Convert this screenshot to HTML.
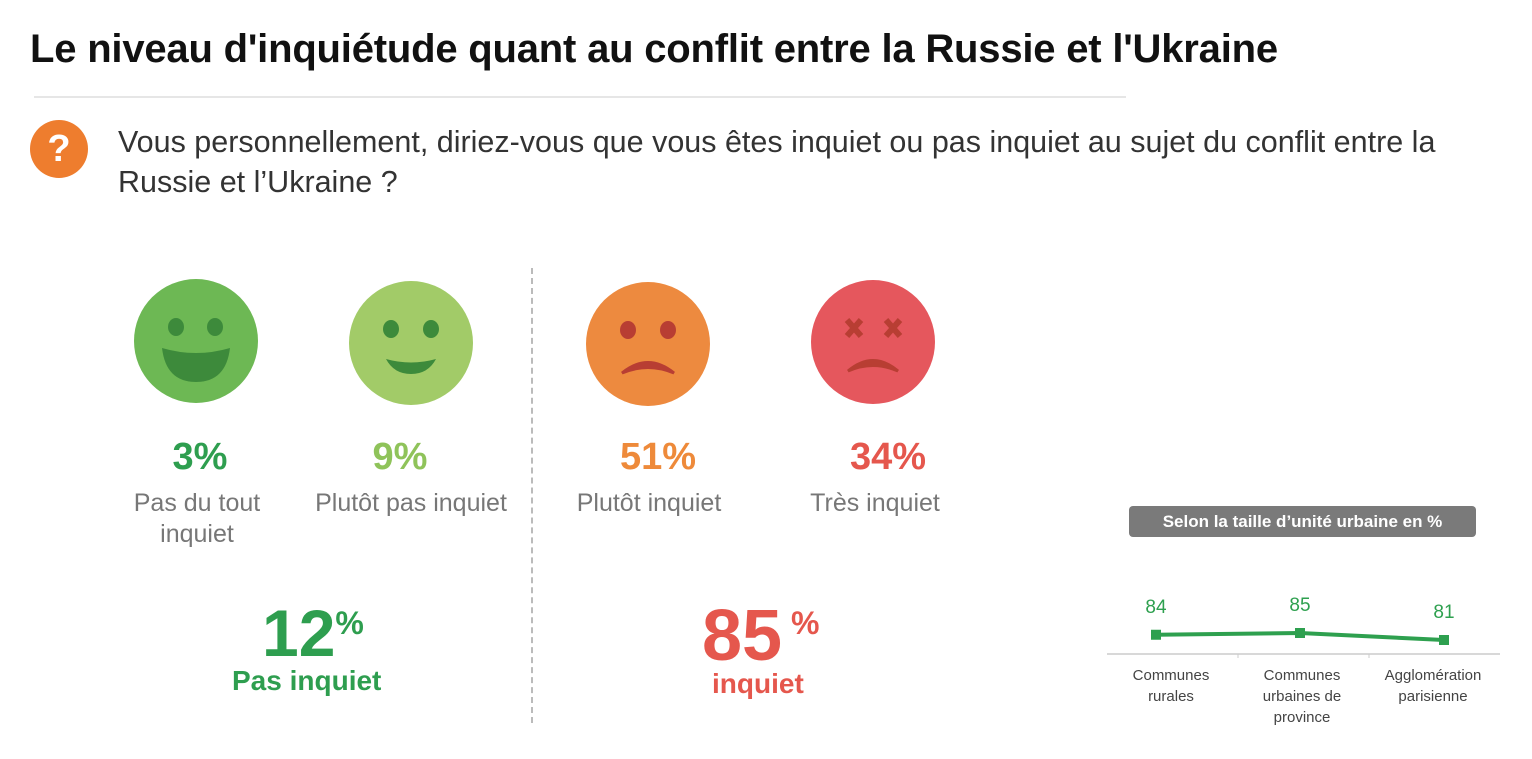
<!DOCTYPE html>
<html><head><meta charset="utf-8"><style>
body{margin:0;width:1532px;height:759px;background:#fff;position:relative;overflow:hidden;font-family:"Liberation Sans",sans-serif}
.a{position:absolute}
.pct{font-weight:bold;font-size:38px;text-align:center;width:220px}
.lab{color:#777;font-size:25px;text-align:center;width:240px;line-height:31px}
</style></head><body>
<div class="a" style="left:30px;top:27px;font-size:40px;font-weight:bold;color:#111;letter-spacing:-0.2px">Le niveau d'inquiétude quant au conflit entre la Russie et l'Ukraine</div>
<div class="a" style="left:34px;top:96px;width:1092px;height:2px;background:#e6e6e6"></div>
<div class="a" style="left:30px;top:120px;width:58px;height:58px;border-radius:50%;background:#ee7d2e;color:#fff;font-size:38px;font-weight:bold;text-align:center;line-height:58px">?</div>
<div class="a" style="left:118px;top:122px;width:1370px;font-size:30.5px;line-height:40px;color:#333">Vous personnellement, diriez-vous que vous êtes inquiet ou pas inquiet au sujet du conflit entre la Russie et l’Ukraine ?</div>
<div class="a" style="left:531px;top:268px;height:455px;border-left:2px dashed #bbb"></div>
<svg class="a" style="left:0;top:0" width="1000" height="420">
<g><circle cx="196" cy="341" r="62" fill="#6db854"/><ellipse cx="176" cy="327" rx="8" ry="9" fill="#3d8a3b"/><ellipse cx="215" cy="327" rx="8" ry="9" fill="#3d8a3b"/><path d="M162 348 Q196 358 230 348 Q226 382 196 382 Q166 382 162 348Z" fill="#3d8a3b"/></g>
<g><circle cx="411" cy="343" r="62" fill="#a2cb68"/><ellipse cx="391" cy="329" rx="8" ry="9" fill="#3d8a3b"/><ellipse cx="431" cy="329" rx="8" ry="9" fill="#3d8a3b"/><path d="M386 359 Q411 366 436 359 Q428 374 411 374 Q394 374 386 359Z" fill="#3d8a3b"/></g>
<g><circle cx="648" cy="344" r="62" fill="#ed8a3f"/><ellipse cx="628" cy="330" rx="8" ry="9" fill="#b83e33"/><ellipse cx="668" cy="330" rx="8" ry="9" fill="#b83e33"/><path d="M622 373 Q648 352 674 373 Q648 362 622 373Z" fill="#b83e33" stroke="#b83e33" stroke-width="3"/></g>
<g><circle cx="873" cy="342" r="62" fill="#e5575d"/><g stroke="#b83e33" stroke-width="6"><path d="M847 320 L861 336 M861 320 L847 336 M886 320 L900 336 M900 320 L886 336"/></g><path d="M848 371 Q873 350 898 371 Q873 360 848 371Z" fill="#b83e33" stroke="#b83e33" stroke-width="3"/></g>
</svg>
<div class="a pct" style="left:90px;top:436px;color:#2e9e4f">3%</div>
<div class="a pct" style="left:290px;top:436px;color:#8fc35a">9%</div>
<div class="a pct" style="left:548px;top:436px;color:#ee8a3a">51%</div>
<div class="a pct" style="left:778px;top:436px;color:#e5574d">34%</div>
<div class="a lab" style="left:77px;top:488px">Pas du tout<br>inquiet</div>
<div class="a lab" style="left:291px;top:488px">Plutôt pas inquiet</div>
<div class="a lab" style="left:529px;top:488px">Plutôt inquiet</div>
<div class="a lab" style="left:755px;top:488px">Très inquiet</div>
<div class="a" style="left:262px;top:598px;color:#2e9e4f;font-weight:bold;font-size:66px;line-height:70px">12<span style="font-size:32px;vertical-align:top;line-height:50px">%</span></div>
<div class="a" style="left:232px;top:665px;color:#2e9e4f;font-weight:bold;font-size:28px">Pas inquiet</div>
<div class="a" style="left:702px;top:598px;color:#e5574d;font-weight:bold;font-size:72px;line-height:76px">85<span style="font-size:32px;vertical-align:top;line-height:50px"> %</span></div>
<div class="a" style="left:712px;top:668px;color:#e5574d;font-weight:bold;font-size:28px">inquiet</div>
<div class="a" style="left:1129px;top:506px;width:347px;height:31px;border-radius:4px;background:#7a7a7a;color:#fff;font-weight:bold;font-size:17px;text-align:center;line-height:31px">Selon la taille d’unité urbaine en %</div>
<svg class="a" id="chart" style="left:0;top:0" width="1532" height="759"></svg>
<script>
const categories=[["Communes","rurales"],["Communes","urbaines de","province"],["Agglomération","parisienne"]];
const values=[84,85,81];
const NS="http://www.w3.org/2000/svg";
const svg=document.getElementById('chart');
const x=i=>1156+i*144;
const y=v=>633+(85-v)*1.75;
const labelShift=[15,2,-11];
function mk(t,a){const e=document.createElementNS(NS,t);for(const k in a)e.setAttribute(k,a[k]);svg.appendChild(e);return e;}
const ax=mk('line',{x1:1107,x2:1500,y1:654,y2:654,stroke:'#ccc','stroke-width':1.5});


[1238,1369].forEach(tx=>{const t=mk('line',{x1:tx,x2:tx,y1:654,y2:658,stroke:'#ccc'});

});
const pl=mk('polyline',{points:values.map((v,i)=>x(i)+','+y(v)).join(' '),fill:'none',stroke:'#2ea04f','stroke-width':4});


values.forEach((v,i)=>{
const r=mk('rect',{x:x(i)-5,y:y(v)-5,width:10,height:10,fill:'#2ea04f'});


const t=mk('text',{x:x(i),y:y(v)-22,'text-anchor':'middle',fill:'#2ea04f','font-size':19,'font-family':'Liberation Sans, sans-serif'});
t.textContent=v;


categories[i].forEach((s,j)=>{const c=mk('text',{x:x(i)+labelShift[i],y:680+j*21,'text-anchor':'middle',fill:'#444','font-size':15,'font-family':'Liberation Sans, sans-serif'});
c.textContent=s;

});
});
</script>
</body></html>
